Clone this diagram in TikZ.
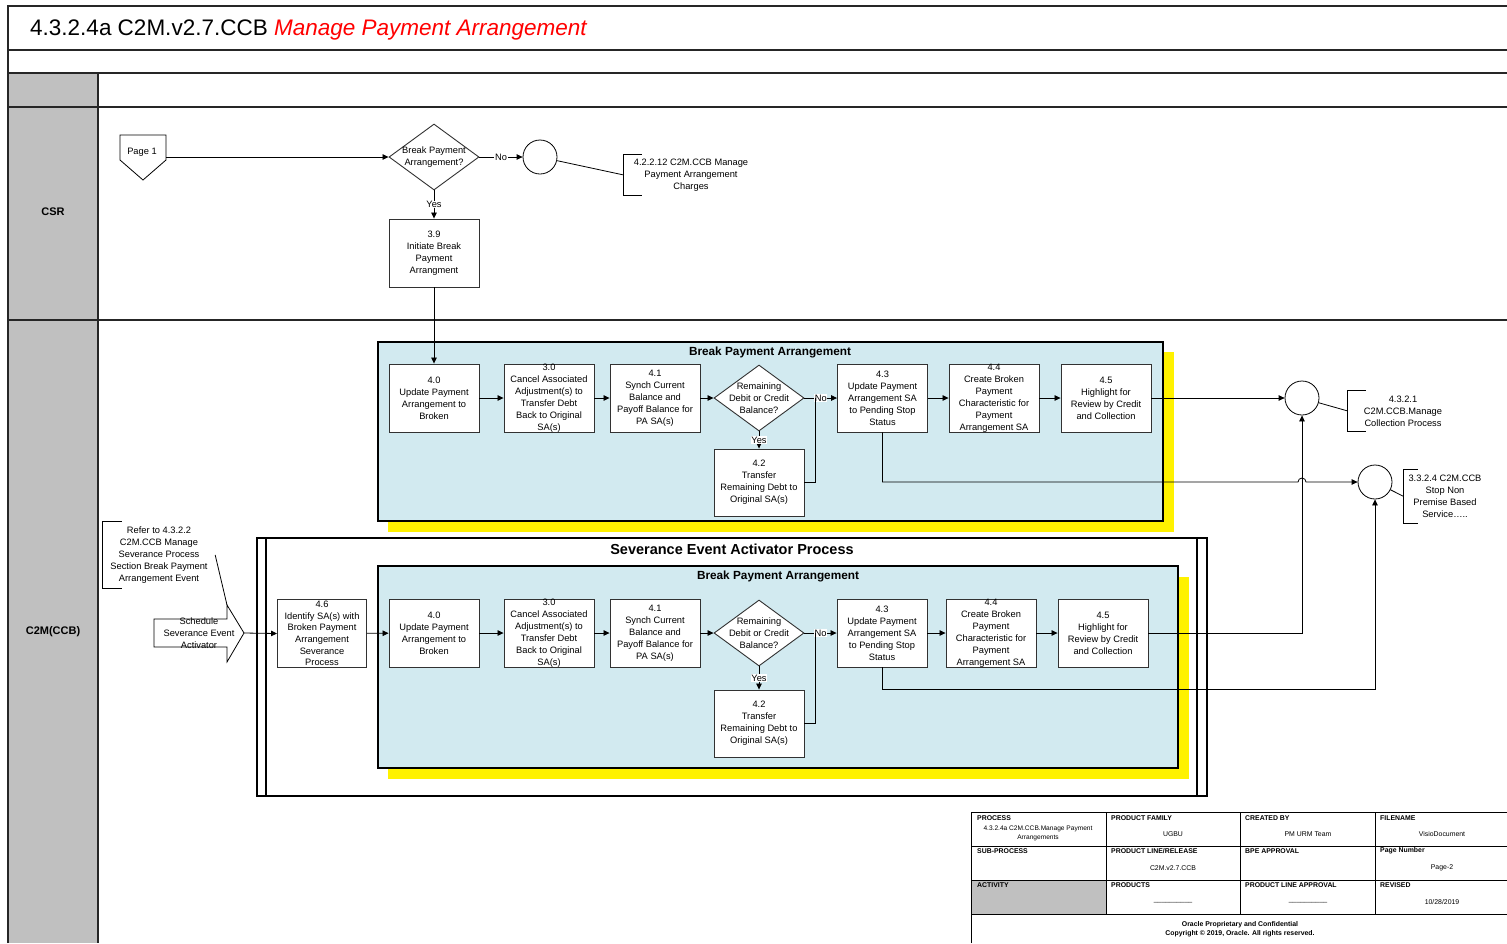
\documentclass[tikz,border=0pt]{standalone}
\usepackage{fontspec}
\setmainfont{Liberation Sans}
\usetikzlibrary{shapes.geometric, arrows.meta}

\definecolor{lanegray}{RGB}{192,192,192}
\definecolor{grpblue}{RGB}{210,234,240}
\definecolor{boxline}{RGB}{50,50,50}

\tikzset{
  frame/.style={line width=1.1, draw=black!85},
  plain/.style={line width=0.8},
  flow/.style={line width=0.8, -{Triangle[length=6pt,width=5.5pt]}},
  proc/.style={draw=boxline, fill=white, line width=0.9, minimum width=90, minimum height=68, inner sep=0},
  decide/.style={diamond, draw=boxline, fill=white, line width=0.9, minimum width=90, minimum height=66, inner sep=0},
  offpage/.style={circle, draw, fill=white, line width=0.8, minimum size=34, inner sep=0},
  txt/.style={font=\fontsize{9.3}{12}\selectfont, align=center, inner sep=0},
  note/.style={txt},
  yesno/.style={fill=white, inner sep=0.6, font=\fontsize{9.3}{11}\selectfont},
  grp/.style={draw, line width=1.5, fill=grpblue},
  grptitle/.style={font=\bfseries\fontsize{11.8}{14}\selectfont, inner sep=0},
  lanelabel/.style={font=\bfseries\fontsize{11}{13}\selectfont, inner sep=0},
  fhead/.style={font=\bfseries\fontsize{6.9}{8}\selectfont, anchor=west, inner sep=0},
  fval/.style={font=\fontsize{6.9}{9}\selectfont, align=center, inner sep=0},
}

\begin{document}
\begin{tikzpicture}[x=1pt, y=-1pt]
  \useasboundingbox (0,0) rectangle (1507,943);

  % Frame and lanes
  \fill[lanegray] (8,73) rectangle (98,943);
  \draw[frame] (8,943) -- (8,6) -- (1507,6);
  \foreach \y in {50,73,107,320} {
    \draw[frame] (8,\y) -- (1507,\y);
  }
  \draw[frame] (98,73) -- (98,943);

  \node[anchor=base west, inner sep=0, font=\fontsize{22.5}{27}\selectfont] (title) at (30,35)
    {4.3.2.4a C2M.v2.7.CCB \textcolor{red}{\itshape Manage Payment Arrangement}};
  \node[lanelabel] (csr) at (53,212) {CSR};
  \node[lanelabel] (ccb) at (53,632) {C2M(CCB)};

  % CSR lane
  \draw[plain, fill=white] (120,135) -- (166,135) -- (166,160) -- (143,180) -- (120,160) -- cycle;
  \node[txt] (page1) at (142,152) {Page 1};
  \coordinate (page1out) at (166,157);
  \node[decide, label={[txt]center:{Break Payment\\Arrangement?}}] (bq) at (434,157) {};
  \node[offpage] (cN) at (540,157) {};
  \node[note, minimum width=134, minimum height=40] (n1) at (691,175)
    {4.2.2.12 C2M.CCB Manage\\Payment Arrangement\\Charges};
  \node[proc, label={[txt]center:{3.9\\Initiate Break\\Payment\\Arrangment}}] (b39) at (434,253) {};

  \draw[flow] (page1out) -- (bq.west);
  \draw[flow] (bq.east) -- node[yesno] {No} (cN.west);
  \draw[flow] (bq.south) -- node[yesno] {Yes} (b39.north);
  \draw[plain] (cN) -- (n1.west);

  % Break Payment Arrangement (upper)
  \fill[yellow] (388,352) rectangle (1174,532);
  \draw[grp] (378,342) rectangle (1163,521);
  \node[grptitle] (ugrp) at (770,352) {Break Payment Arrangement};

  \node[proc, label={[txt]center:{4.0\\Update Payment\\Arrangement to\\Broken}}] (u40) at (434,398) {};
  \node[proc, label={[txt]center:{3.0\\Cancel Associated\\Adjustment(s)  to\\Transfer Debt\\Back to Original\\SA(s)}}] (u30) at (549,398) {};
  \node[proc, label={[txt]center:{4.1\\Synch Current\\Balance and\\Payoff Balance for\\PA SA(s)}}] (u41) at (655,398) {};
  \node[decide, label={[txt]center:{Remaining\\Debit or Credit\\Balance?}}] (ud) at (759,398) {};
  \node[proc, minimum height=67, label={[txt]center:{4.2\\Transfer\\Remaining Debt to\\Original SA(s)}}] (u42) at (759,482.5) {};
  \node[proc, label={[txt]center:{4.3\\Update Payment\\Arrangement SA\\to Pending Stop\\Status}}] (u43) at (882.5,398) {};
  \node[proc, label={[txt]center:{4.4\\Create Broken\\Payment\\Characteristic for\\Payment\\Arrangement SA}}] (u44) at (994,398) {};
  \node[proc, label={[txt]center:{4.5\\Highlight for\\Review by Credit\\and Collection}}] (u45) at (1106,398) {};
  \coordinate (uj) at (815,398);

  \draw[flow] (b39.south) -- (u40.north);
  \draw[flow] (u40) -- (u30);
  \draw[flow] (u30) -- (u41);
  \draw[flow] (u41) -- (ud);
  \draw[flow] (ud.east) -- node[yesno] {No} (u43.west);
  \draw[flow] (ud.south) -- node[yesno] {Yes} (u42.north);
  \draw[plain] (u42.east) -| (uj);
  \draw[flow] (u43) -- (u44);
  \draw[flow] (u44) -- (u45);

  % End points on the right
  \node[offpage] (cA) at (1302,398) {};
  \node[offpage] (cB) at (1375,482) {};
  \node[note, minimum width=110, minimum height=40] (nA) at (1403,411)
    {4.3.2.1\\C2M.CCB.Manage\\Collection Process};
  \node[note, minimum width=82, minimum height=53] (nB) at (1445,496.5)
    {3.3.2.4 C2M.CCB\\Stop Non\\Premise Based\\Service…..};
  \coordinate (hopL) at (1298,482);

  \draw[flow] (u45.east) -- (cA.west);
  \draw[flow] (u43.south) |- (hopL) arc[start angle=180, end angle=360, radius=4] -- (cB.west);
  \draw[plain] (cA) -- (nA.west);
  \draw[plain] (cB) -- (nB.west);

  % Severance Event Activator Process
  \node[note, minimum width=112, minimum height=66] (nR) at (159,555)
    {Refer to 4.3.2.2\\C2M.CCB Manage\\Severance Process\\Section Break Payment\\Arrangement Event};
  \draw[plain, fill=white] (154,619) -- (227,619) -- (227,605) -- (244,633) -- (227,662) -- (227,647) -- (154,647) -- cycle;
  \node[txt] (sched) at (199,633) {Schedule\\Severance Event\\Activator};
  \coordinate (schedtip) at (244,633);
  \coordinate (schedtop) at (227,605);
  \draw[plain] (nR.east) -- (schedtop);

  \draw[line width=1.2, fill=white] (257,538) rectangle (1207,796);
  \draw[line width=1.2] (266,538) -- (266,796);
  \draw[line width=1.2] (1197,538) -- (1197,796);
  \node[font=\bfseries\fontsize{14.5}{17}\selectfont, inner sep=0] (sev) at (732,549) {Severance Event Activator Process};

  \node[proc, minimum width=89, label={[txt, font=\fontsize{9.3}{11.7}\selectfont]center:{4.6\\Identify SA(s) with\\Broken Payment\\Arrangement\\Severance\\Process}}] (l46) at (322,633.5) {};

  % Break Payment Arrangement (lower)
  \fill[yellow] (388,577) rectangle (1189,779);
  \draw[grp] (378,566) rectangle (1178,768);
  \node[grptitle] (lgrp) at (778,576) {Break Payment Arrangement};

  \node[proc, label={[txt]center:{4.0\\Update Payment\\Arrangement to\\Broken}}] (l40) at (434,633) {};
  \node[proc, label={[txt]center:{3.0\\Cancel Associated\\Adjustment(s)  to\\Transfer Debt\\Back to Original\\SA(s)}}] (l30) at (549,633) {};
  \node[proc, label={[txt]center:{4.1\\Synch Current\\Balance and\\Payoff Balance for\\PA SA(s)}}] (l41) at (655,633) {};
  \node[decide, label={[txt]center:{Remaining\\Debit or Credit\\Balance?}}] (ld) at (759,633) {};
  \node[proc, minimum height=67, label={[txt]center:{4.2\\Transfer\\Remaining Debt to\\Original SA(s)}}] (l42) at (759,723.5) {};
  \node[proc, label={[txt]center:{4.3\\Update Payment\\Arrangement SA\\to Pending Stop\\Status}}] (l43) at (882,633) {};
  \node[proc, label={[txt]center:{4.4\\Create Broken\\Payment\\Characteristic for\\Payment\\Arrangement SA}}] (l44) at (991,633) {};
  \node[proc, label={[txt]center:{4.5\\Highlight for\\Review by Credit\\and Collection}}] (l45) at (1103,633) {};
  \coordinate (lj) at (815,633);

  \draw[flow] (schedtip) -- (l46.west);
  \draw[flow] (l46) -- (l40);
  \draw[flow] (l40) -- (l30);
  \draw[flow] (l30) -- (l41);
  \draw[flow] (l41) -- (ld);
  \draw[flow] (ld.east) -- node[yesno] {No} (l43.west);
  \draw[flow] (ld.south) -- node[yesno] {Yes} (l42.north);
  \draw[plain] (l42.east) -| (lj);
  \draw[flow] (l43) -- (l44);
  \draw[flow] (l44) -- (l45);
  \draw[flow] (l45.east) -| (cA.south);
  \draw[flow] (l43.south) -- ++(0,22) -| (cB.south);

  % Note brackets
  \foreach \n/\t in {n1/18, nA/18, nB/14, nR/19} {
    \draw[plain] ([xshift=\t]\n.north west) -- (\n.north west) -- (\n.south west) -- ([xshift=\t]\n.south west);
  }

  % Title block
  \fill[lanegray] (971,880) rectangle (1106,914);
  \draw[plain] (971,943) -- (971,812) -- (1507,812);
  \foreach \y in {846,880,914} {
    \draw[plain] (971,\y) -- (1507,\y);
  }
  \foreach \x in {1106,1240,1375} {
    \draw[plain] (\x,812) -- (\x,914);
  }
  \node[fhead] (hproc) at (977,818) {PROCESS};
  \node[fhead] (hfam) at (1111,818) {PRODUCT FAMILY};
  \node[fhead] (hcre) at (1245,818) {CREATED BY};
  \node[fhead] (hfile) at (1380,818) {FILENAME};
  \node[fhead] (hsub) at (977,851) {SUB-PROCESS};
  \node[fhead] (hline) at (1111,851) {PRODUCT LINE/RELEASE};
  \node[fhead] (hbpe) at (1245,851) {BPE APPROVAL};
  \node[fhead] (hpage) at (1380,851) {Page Number};
  \node[fhead] (hact) at (977,885) {ACTIVITY};
  \node[fhead] (hprod) at (1111,885) {PRODUCTS};
  \node[fhead] (hpla) at (1245,885) {PRODUCT LINE APPROVAL};
  \node[fhead] (hrev) at (1380,885) {REVISED};

  \node[fval, font=\fontsize{6.6}{9}\selectfont] (vproc) at (1038,833.5) {4.3.2.4a C2M.CCB.Manage Payment\\Arrangements};
  \node[fval] (vfam) at (1173,834) {UGBU};
  \node[fval] (vcre) at (1308,834) {PM URM Team};
  \node[fval] (vfile) at (1442,834) {VisioDocument};
  \node[fval] (vline) at (1173,868) {C2M.v2.7.CCB};
  \node[fval] (vpage) at (1442,868) {Page-2};
  \node[fval] (vprod) at (1173,902) {\_\_\_\_\_\_\_\_\_\_};
  \node[fval] (vpla) at (1308,902) {\_\_\_\_\_\_\_\_\_\_};
  \node[fval] (vrev) at (1442,902) {10/28/2019};
  \node[fval, font=\bfseries\fontsize{6.9}{9}\selectfont] (copy) at (1240,929.5)
    {Oracle Proprietary and Confidential\\Copyright © 2019, Oracle. All rights reserved.};
\end{tikzpicture}
\end{document}
